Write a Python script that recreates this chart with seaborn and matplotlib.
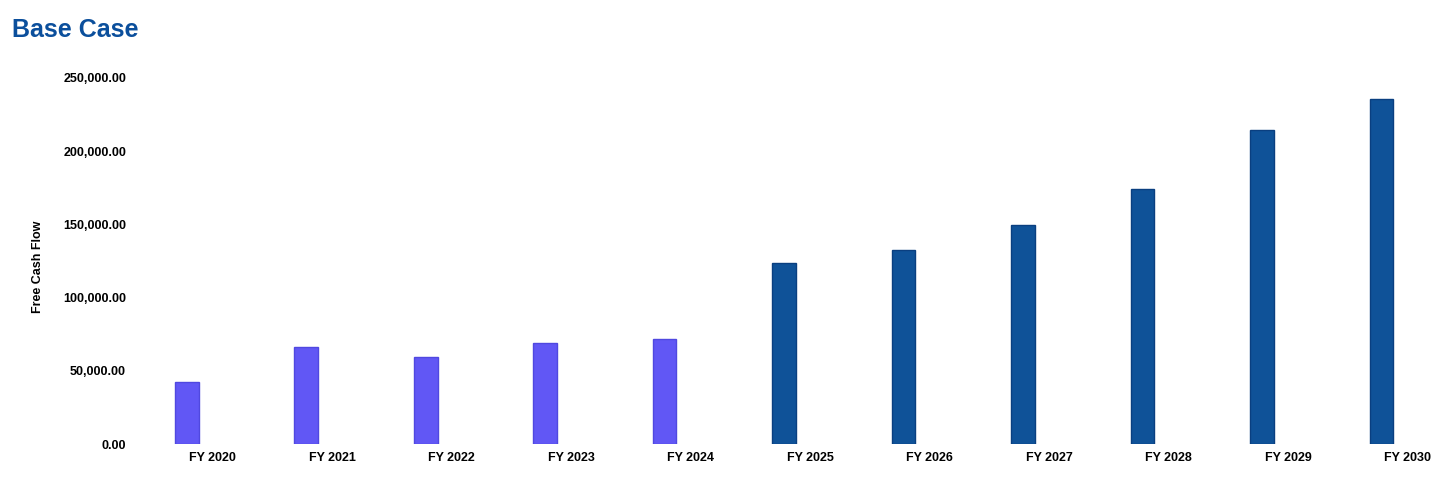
import numpy as np
import pandas as pd
import matplotlib.pyplot as plt
import seaborn as sns

years = ["FY 2020", "FY 2021", "FY 2022", "FY 2023", "FY 2024", "FY 2025",
         "FY 2026", "FY 2027", "FY 2028", "FY 2029", "FY 2030"]
fcf = [42300, 66300, 59400, 69000, 71700, 123600, 132500, 149600, 174200, 214500, 235700]
period = ["Historical"] * 5 + ["Projected"] * 6
colors = {"Historical": "#6157F5", "Projected": "#0F5298"}
edges = {"Historical": "#5048E0", "Projected": "#0A3F80"}

df = pd.DataFrame({"year": years, "fcf": fcf, "period": period})

sns.set_style("white")
plt.rcParams["font.family"] = ["Liberation Sans", "DejaVu Sans"]
plt.rcParams["text.color"] = "black"
plt.rcParams["xtick.color"] = "black"
plt.rcParams["ytick.color"] = "black"
plt.rcParams["axes.labelcolor"] = "black"

fig = plt.figure(figsize=(14.56, 4.9), dpi=100)
ax = fig.add_axes([140 / 1456, 46 / 490, 1300 / 1456, 366 / 490])

sns.barplot(data=df, x="year", y="fcf", hue="period", palette=colors,
            dodge=False, width=0.2, legend=False, ax=ax, linewidth=1, saturation=1)
for bar, p in zip(ax.patches, period):
    bar.set_edgecolor(edges[p])

ax.set_ylim(0, 250000)
ax.set_xlim(-0.39, 10.49)
ax.set_yticks(np.arange(0, 250001, 50000))
ax.set_yticklabels([f"{v:,.2f}" for v in np.arange(0, 250001, 50000)],
                   fontsize=9, fontweight="bold")
ax.set_xticks(np.arange(len(years)) + 0.22)
ax.set_xticklabels(years, fontsize=9, fontweight="bold")
ax.tick_params(axis="y", length=0, pad=10)
ax.tick_params(axis="x", length=0, pad=6)
for s in ax.spines.values():
    s.set_visible(False)
ax.grid(False)

ax.set_xlabel("")
ax.set_ylabel("Free Cash Flow", fontsize=9, fontweight="bold")
ax.yaxis.set_label_coords(-0.074, 0.484)

fig.text(12 / 1456, 1 - 30 / 490, "Base Case", fontsize=18, fontweight="bold",
         color="#0B4F9C", va="center", ha="left")

fig.savefig("out.png", dpi=100, facecolor="white")
